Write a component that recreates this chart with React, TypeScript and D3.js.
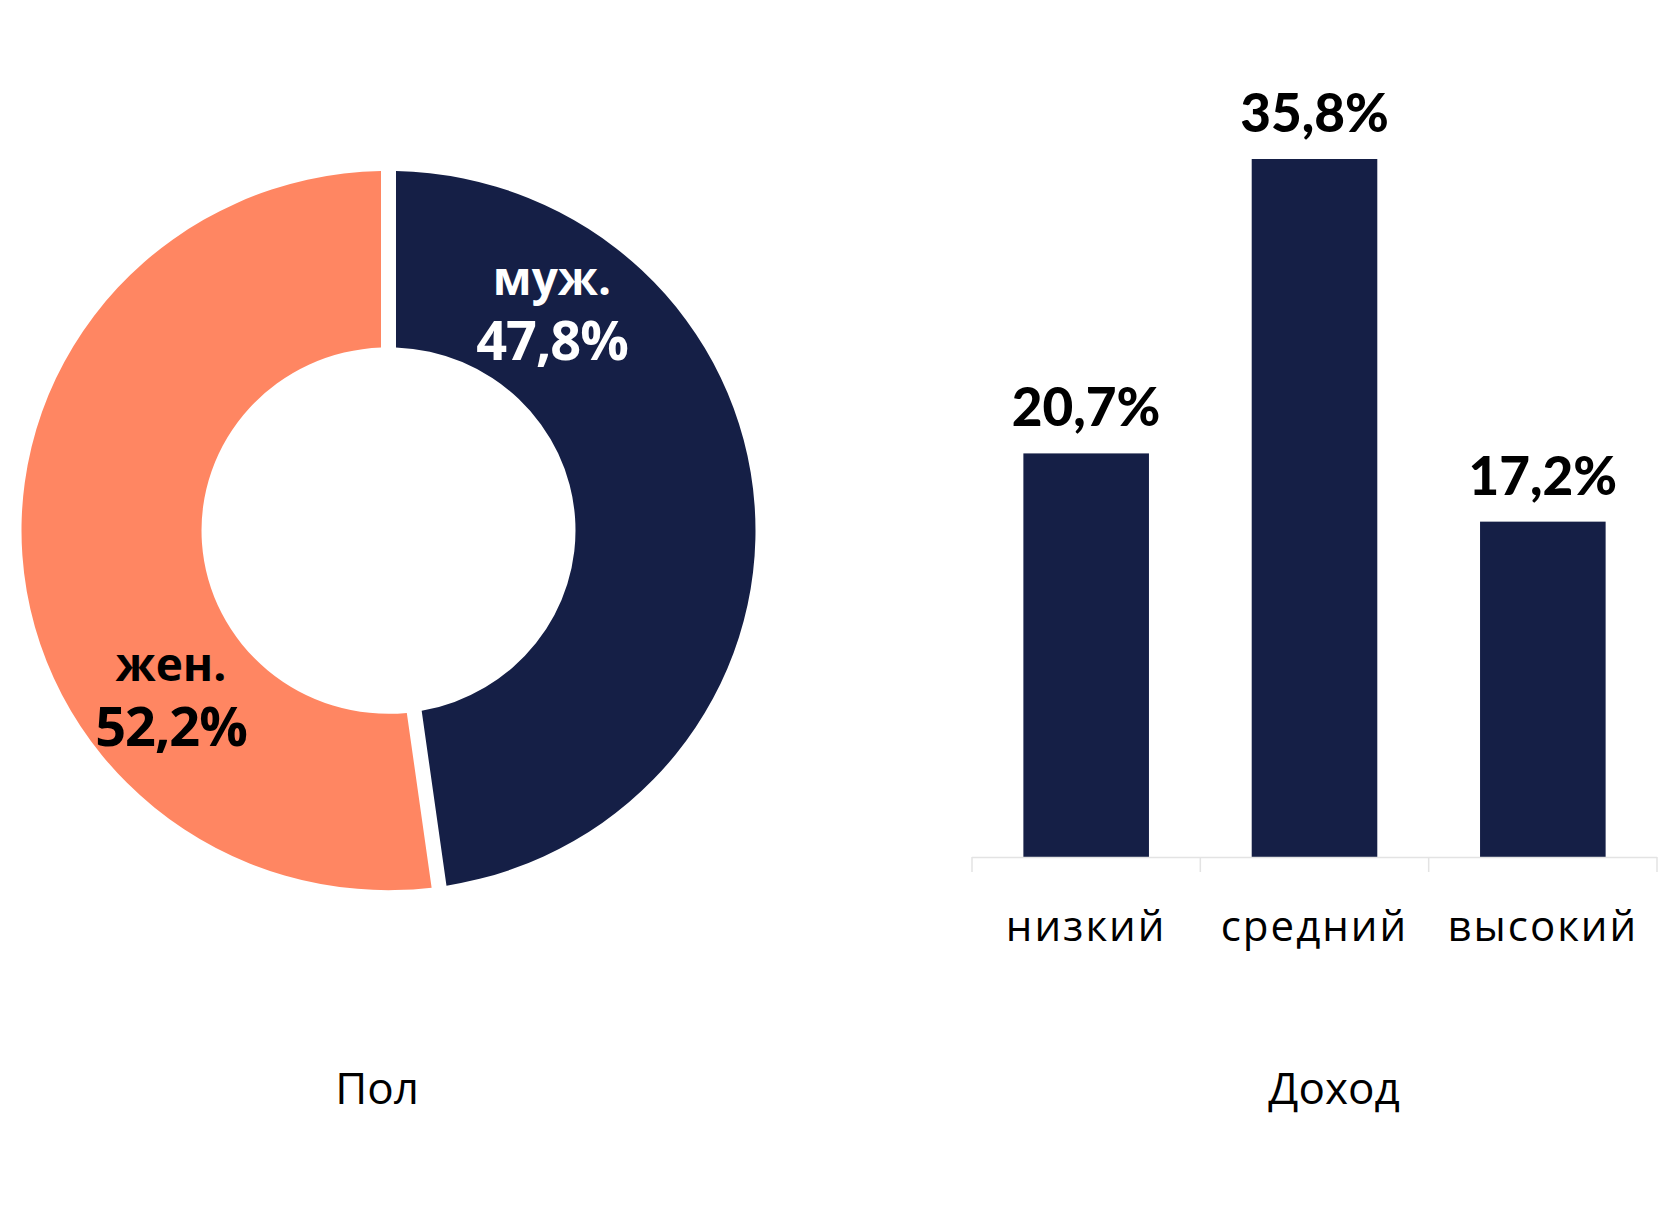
import React from "react";
import * as d3 from "d3";

const genderLabels = ["муж.", "жен."];
const genderValues = [47.8, 52.2];
const genderTexts = ["47,8%", "52,2%"];
const genderColors = ["#151f46", "#ff8662"];
const genderTextColors = ["#ffffff", "#000000"];

const incomeCategories = ["низкий", "средний", "высокий"];
const incomeValues = [20.7, 35.8, 17.2];
const incomeTexts = ["20,7%", "35,8%", "17,2%"];

const W = 1680;
const H = 1208;

export default function App() {
  const cx = 388.5;
  const cy = 530.5;
  const outerR = 367;
  const innerR = 187;

  const pie = d3.pie<number>().sort(null).value((d) => d).startAngle(0).endAngle(2 * Math.PI);
  const arcs = pie(genderValues);
  const arcGen = d3
    .arc<d3.PieArcDatum<number>>()
    .innerRadius(innerR)
    .outerRadius(outerR)
    .padAngle(15 / outerR)
    .padRadius(outerR);

  const labelPos = [
    { x: 552, y1: 295, y2: 360 },
    { x: 171, y1: 681, y2: 746 },
  ];

  const x = d3.scaleBand<string>().domain(incomeCategories).range([972, 1657]).paddingInner(0.45).paddingOuter(0.225);
  const y = d3.scaleLinear().domain([0, 35.8]).range([857, 159]);
  const xOuter = d3.scaleBand<string>().domain(incomeCategories).range([972, 1657]);

  return (
    <svg width={W} height={H} style={{ position: "absolute", left: 0, top: 0, background: "#fff" }}>
      <g transform={`translate(${cx},${cy}) scale(1,0.98)`}>
        {arcs.map((a, i) => (
          <path key={i} d={arcGen(a) || ""} fill={genderColors[i]} />
        ))}
      </g>
      {genderLabels.map((l, i) => (
        <g key={l} fontFamily="'Open Sans', sans-serif" fontWeight={700} textAnchor="middle" fill={genderTextColors[i]}>
          <text x={labelPos[i].x} y={labelPos[i].y1} fontSize={46}>
            {l}
          </text>
          <text x={labelPos[i].x} y={labelPos[i].y2} fontSize={54} letterSpacing={-1}>
            {genderTexts[i]}
          </text>
        </g>
      ))}
      <text x={377} y={1104} textAnchor="middle" fontFamily="'Open Sans', sans-serif" fontSize={44} fill="#000">
        Пол
      </text>

      {/* bars */}
      {incomeCategories.map((c, i) => (
        <rect key={c} x={x(c)} y={y(incomeValues[i])} width={x.bandwidth()} height={y(0) - y(incomeValues[i])} fill="#151f46" />
      ))}
      <line x1={972} x2={1657} y1={857.5} y2={857.5} stroke="#e3e3e3" strokeWidth={1.5} />
      {[...incomeCategories.map((c) => xOuter(c) as number), 1657].map((t, i) => (
        <line key={i} x1={t} x2={t} y1={857} y2={872} stroke="#e3e3e3" strokeWidth={1.5} />
      ))}
      {incomeCategories.map((c, i) => (
        <text
          key={c}
          x={(x(c) as number) + x.bandwidth() / 2}
          y={y(incomeValues[i]) - 27}
          textAnchor="middle"
          fontFamily="Lato, sans-serif"
          fontWeight={900}
          fontSize={53}
          fill="#000"
        >
          {incomeTexts[i]}
        </text>
      ))}
      {incomeCategories.map((c) => (
        <text
          key={c}
          x={(x(c) as number) + x.bandwidth() / 2}
          y={941}
          textAnchor="middle"
          fontFamily="'Open Sans', sans-serif"
          fontSize={42}
          letterSpacing={2}
          fill="#000"
        >
          {c}
        </text>
      ))}
      <text x={1334} y={1104} textAnchor="middle" fontFamily="'Open Sans', sans-serif" fontSize={44} fill="#000">
        Доход
      </text>
    </svg>
  );
}
